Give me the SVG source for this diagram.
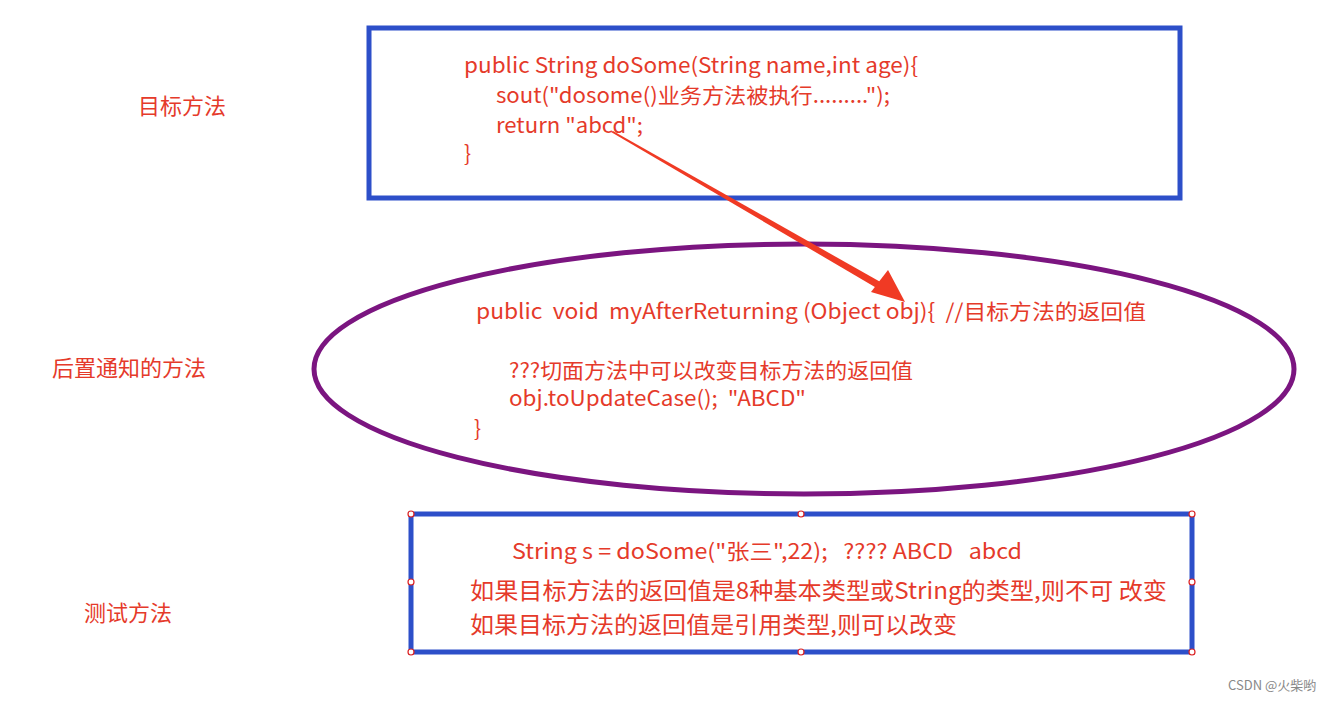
<svg xmlns="http://www.w3.org/2000/svg" width="1343" height="703" viewBox="0 0 1343 703">
<style>
text{font-family:"Noto Sans CJK SC","Noto Sans",sans-serif;fill:#e53a2a;font-size:21px;white-space:pre}
.lbl{font-size:22px}
.big{font-size:23px}
.box{fill:none;stroke:#2d4fc9;stroke-width:5}
.h{fill:#fff;stroke:#d22;stroke-width:1.2}
</style>
<rect width="1343" height="703" fill="#fff"/>
<g id="labels">
<text x="138" y="114" class="lbl">目标方法</text>
<text x="52" y="376" class="lbl">后置通知的方法</text>
<text x="84" y="621" class="lbl">测试方法</text>
</g>
<g id="target">
<rect class="box" x="369" y="28" width="811" height="170"/>
<text x="464" y="73" textLength="454" lengthAdjust="spacingAndGlyphs">public String doSome(String name,int age){</text>
<text x="496" y="103" textLength="394" lengthAdjust="spacingAndGlyphs">sout("dosome()业务方法被执行.........");</text>
<text x="496" y="133" textLength="147" lengthAdjust="spacingAndGlyphs">return "abcd";</text>
<text x="464" y="161">}</text>
</g>
<g id="advice">
<ellipse cx="804" cy="369" rx="490" ry="125" fill="none" stroke="#7b1580" stroke-width="5"/>
<text x="476" y="319" textLength="670" lengthAdjust="spacingAndGlyphs" xml:space="preserve">public  void  myAfterReturning (Object obj){  //目标方法的返回值</text>
<text x="509" y="378" textLength="404" lengthAdjust="spacingAndGlyphs">???切面方法中可以改变目标方法的返回值</text>
<text x="509" y="406" textLength="297" lengthAdjust="spacingAndGlyphs" xml:space="preserve">obj.toUpdateCase();  "ABCD"</text>
<text x="474" y="436">}</text>
</g>
<g id="test">
<rect class="box" x="411" y="514" width="781" height="138"/>
<text x="512" y="559" textLength="510" lengthAdjust="spacingAndGlyphs" xml:space="preserve">String s = doSome("张三",22);   ???? ABCD   abcd</text>
<text x="470" y="599" class="big" textLength="697" lengthAdjust="spacingAndGlyphs">如果目标方法的返回值是8种基本类型或String的类型,则不可 改变</text>
<text x="470" y="633" class="big" textLength="487" lengthAdjust="spacingAndGlyphs">如果目标方法的返回值是引用类型,则可以改变</text>
<circle class="h" cx="411" cy="514" r="3"/><circle class="h" cx="801" cy="514" r="3"/><circle class="h" cx="1192" cy="514" r="3"/>
<circle class="h" cx="411" cy="582" r="3"/><circle class="h" cx="1192" cy="582" r="3"/>
<circle class="h" cx="411" cy="652" r="3"/><circle class="h" cx="801" cy="652" r="3"/><circle class="h" cx="1192" cy="652" r="3"/>
</g>
<g id="connectors">
<polygon points="611,132 613,131 884,284 880,290" fill="#f03a24"/>
<polygon points="905,302 871,292 888,270" fill="#f03a24"/>
</g>
<text x="1228" y="690" style="font-size:13px;fill:#888">CSDN @火柴哟</text>
</svg>
